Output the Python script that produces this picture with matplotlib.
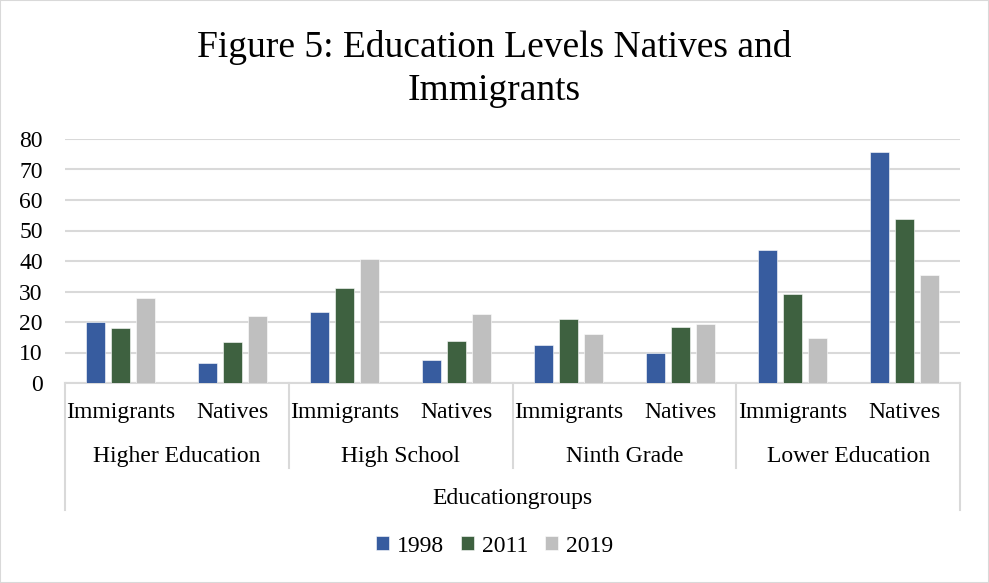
import matplotlib
matplotlib.use("Agg")
import matplotlib.pyplot as plt
from matplotlib.patches import Rectangle
import numpy as np

groups = ["Higher Education", "High School", "Ninth Grade", "Lower Education"]
subgroups = ["Immigrants", "Natives"]
years = ["1998", "2011", "2019"]
v1998 = [20.0, 6.7, 23.3, 7.6, 12.6, 9.8, 43.5, 75.8]
v2011 = [18.0, 13.6, 31.2, 13.7, 20.9, 18.5, 29.2, 53.7]
v2019 = [28.0, 21.9, 40.5, 22.5, 16.2, 19.3, 14.9, 35.4]
colors = ["#375C9F", "#3E6140", "#BFBFBF"]

plt.rcParams["font.family"] = ["Liberation Serif", "DejaVu Serif"]
GRID = "#d9d9d9"
FS = 17

fig = plt.figure(figsize=(9.89, 5.83), dpi=100)
ax = fig.add_axes([65 / 989, 1 - 383 / 583, 895 / 989, 244 / 583])

x = np.arange(len(v1998))
step, width = 0.223, 0.17
for i, (vals, c, lab) in enumerate(zip([v1998, v2011, v2019], colors, years)):
    ax.bar(x + (i - 1) * step, vals, width, color=c, label=lab,
           edgecolor="white", linewidth=0.4, zorder=3)

ax.set_xlim(-0.5, len(x) - 0.5)
ax.set_ylim(0, 80)
ax.set_yticks(range(0, 81, 10))
ax.yaxis.grid(True, color=GRID, lw=1.5, zorder=0)
ax.tick_params(axis="y", length=0, pad=16, labelsize=FS)
ax.set_xticks([])
for s in ["top", "right", "left"]:
    ax.spines[s].set_visible(False)
ax.spines["bottom"].set_color(GRID)
ax.spines["bottom"].set_linewidth(1.5)

# multi-level category axis below the bars
tr = ax.get_xaxis_transform()
for xi in x:
    ax.text(xi, -0.12, subgroups[xi % 2], transform=tr, ha="center",
            va="center", fontsize=FS)
for g, name in enumerate(groups):
    ax.text(2 * g + 0.5, -0.30, name, transform=tr, ha="center",
            va="center", fontsize=FS)
ax.text((len(x) - 1) / 2, -0.475, "Educationgroups", transform=tr,
        ha="center", va="center", fontsize=FS)
for b in [1.5, 3.5, 5.5]:
    ax.plot([b, b], [0, -0.348], transform=tr, color=GRID, lw=1.5, clip_on=False)
for b in [-0.5, len(x) - 0.5]:
    ax.plot([b, b], [0, -0.52], transform=tr, color=GRID, lw=1.5, clip_on=False)

fig.text(0.5, 1 - 69 / 583, "Figure 5: Education Levels Natives and\nImmigrants",
         ha="center", va="center", fontsize=27, linespacing=1.3)

fig.legend(loc="center", bbox_to_anchor=(0.5, 1 - 546 / 583), ncol=3,
           frameon=False, fontsize=FS, handlelength=0.55, handleheight=0.55,
           handletextpad=0.35, columnspacing=0.7)

fig.patches.append(Rectangle((0, 0), 1, 1, transform=fig.transFigure,
                             fill=False, edgecolor=GRID, lw=1.5))

fig.savefig("out.png", dpi=100)
